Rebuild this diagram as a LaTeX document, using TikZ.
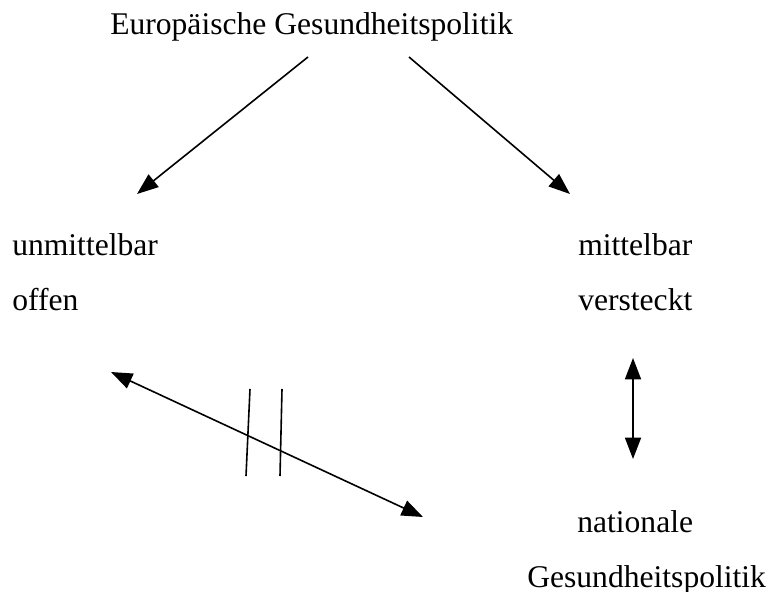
\documentclass[tikz,border=0pt]{standalone}
\usepackage{fontspec}
\setmainfont{Liberation Serif}
\usetikzlibrary{arrows.meta}
\begin{document}
\begin{tikzpicture}[x=0.75pt,y=-0.75pt,
  lbl/.style={inner sep=0pt,anchor=base west,font=\fontsize{23.7}{28}\selectfont},
  conn/.style={line width=1.2pt,-{Triangle[length=16pt,width=12pt]}},
  both/.style={line width=1.2pt,{Triangle[length=16pt,width=12pt]}-{Triangle[length=16pt,width=12pt]}},
  tick/.style={line width=1.2pt}]
  \useasboundingbox (0,0) rectangle (767,592);
  % labels
  \node[lbl] (top) at (110,35) {Europäische Gesundheitspolitik};
  \node[lbl] (u1) at (12,255) {unmittelbar};
  \node[lbl] (u2) at (12,310) {offen};
  \node[lbl] (m1) at (578,255) {mittelbar};
  \node[lbl] (m2) at (578,310) {versteckt};
  \node[lbl] (n1) at (577,532) {nationale};
  \node[lbl] (n2) at (527,587) {Gesundheitspolitik};
  % arrow end points
  \coordinate (a1s) at (308,57);
  \coordinate (a1e) at (137,194);
  \coordinate (a2s) at (409,57);
  \coordinate (a2e) at (570,194);
  \coordinate (vs) at (633,358);
  \coordinate (ve) at (633,459);
  \coordinate (ds) at (111,372);
  \coordinate (de) at (423,517);
  \coordinate (t1a) at (250,389);
  \coordinate (t1b) at (246,476);
  \coordinate (t2a) at (282,389);
  \coordinate (t2b) at (280,476);
  % connectors
  \draw[conn] (a1s) -- (a1e);
  \draw[conn] (a2s) -- (a2e);
  \draw[both] (vs) -- (ve);
  \draw[both] (ds) -- (de);
  \draw[tick] (t1a) -- (t1b);
  \draw[tick] (t2a) -- (t2b);
\end{tikzpicture}
\end{document}
